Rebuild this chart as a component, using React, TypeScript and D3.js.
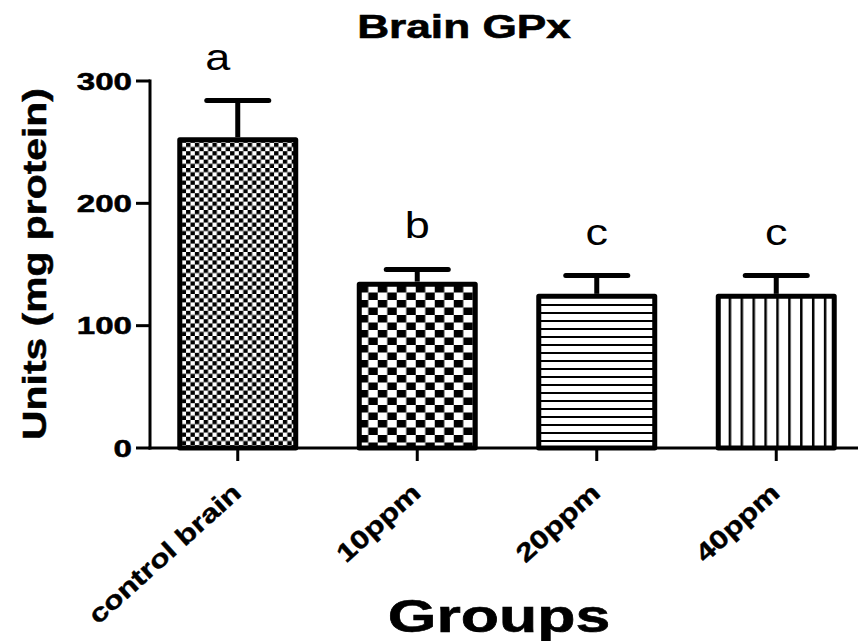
import React from "react";
import * as d3 from "d3";

const categories = ["control brain", "10ppm", "20ppm", "40ppm"];
const means = [254, 136, 126, 126];
const errors = [30, 10, 15, 15];
const letters = ["a", "b", "c", "c"];
const yTicks = [0, 100, 200, 300];
const title = "Brain GPx";
const yLabel = "Units (mg protein)";
const xLabel = "Groups";

const W = 858;
const H = 641;
const FONT = "'Liberation Sans', Arial, Helvetica, sans-serif";

export default function App() {
  const y = d3.scaleLinear().domain([0, 300]).range([448, 81]);
  const x = d3
    .scaleBand<string>()
    .domain(categories)
    .range([148, 866])
    .paddingInner(0.326)
    .paddingOuter(0.163);
  const bw = x.bandwidth();
  const fills = ["url(#p1)", "url(#p2)", "url(#p3)", "url(#p4)"];
  const letterDx = [-20, 0, 0, 0];
  const sw = 5;

  return (
    <svg
      width={W}
      height={H}
      style={{ position: "absolute", left: 0, top: 0, background: "#fff" }}
      fontFamily={FONT}
    >
      <defs>
        {categories.map((c, i) => {
          const bx = x(c)!;
          if (i === 0)
            return (
              <pattern key={i} id="p1" patternUnits="userSpaceOnUse" x={bx} y={0} width={8.8} height={8.4}>
                <rect width={8.8} height={8.4} fill="#fff" />
                <rect x={0} y={0} width={4.4} height={4.2} fill="#000" />
                <rect x={4.4} y={4.2} width={4.4} height={4.2} fill="#000" />
              </pattern>
            );
          if (i === 1)
            return (
              <pattern key={i} id="p2" patternUnits="userSpaceOnUse" x={bx + 2} y={0} width={19} height={15}>
                <rect width={19} height={15} fill="#fff" />
                <rect x={0} y={0} width={9.5} height={7.5} fill="#000" />
                <rect x={9.5} y={7.5} width={9.5} height={7.5} fill="#000" />
              </pattern>
            );
          if (i === 2)
            return (
              <pattern key={i} id="p3" patternUnits="userSpaceOnUse" x={0} y={0} width={10} height={8}>
                <rect width={10} height={8} fill="#fff" />
                <rect x={0} y={0} width={10} height={2} fill="#000" />
              </pattern>
            );
          return (
            <pattern key={i} id="p4" patternUnits="userSpaceOnUse" x={bx + 1} y={0} width={11.9} height={10}>
              <rect width={11.9} height={10} fill="#fff" />
              <rect x={0} y={0} width={2.5} height={10} fill="#000" />
            </pattern>
          );
        })}
      </defs>

      {/* Title */}
      <text
        transform={`translate(464,38) scale(1.3,1)`}
        textAnchor="middle"
        fontSize={34}
        fontWeight="bold"
        stroke="#000"
        strokeWidth={0.6}
      >
        {title}
      </text>

      {/* Bars */}
      {categories.map((c, i) => {
        const bx = x(c)!;
        const top = y(means[i]);
        return (
          <rect
            key={c}
            x={bx + sw / 2}
            y={top + sw / 2}
            width={bw - sw}
            height={y(0) - top - sw / 2}
            fill={fills[i]}
            stroke="#000"
            strokeWidth={sw}
            strokeLinejoin="round"
          />
        );
      })}

      {/* Error bars */}
      {categories.map((c, i) => {
        const cx = x(c)! + bw / 2;
        const top = y(means[i]);
        const cap = y(means[i] + errors[i]);
        return (
          <g key={c} stroke="#000" strokeWidth={5} strokeLinecap="round">
            <line x1={cx} x2={cx} y1={top} y2={cap} strokeLinecap="butt" />
            <line x1={cx - 31} x2={cx + 31} y1={cap} y2={cap} />
          </g>
        );
      })}

      {/* Significance letters */}
      {categories.map((c, i) => {
        const cx = x(c)! + bw / 2 + letterDx[i];
        const cap = y(means[i] + errors[i]);
        return (
          <text
            key={c}
            transform={`translate(${cx},${cap - 31}) scale(1.25,1)`}
            textAnchor="middle"
            fontSize={36}
          >
            {letters[i]}
          </text>
        );
      })}

      {/* Y axis */}
      <line x1={150} x2={150} y1={y(300) - 1.5} y2={y(0) + 1.5} stroke="#000" strokeWidth={3} />
      {yTicks.map((t) => (
        <g key={t}>
          <line x1={136} x2={150} y1={y(t)} y2={y(t)} stroke="#000" strokeWidth={3} />
          <text
            transform={`translate(132,${y(t) + 8.5}) scale(1.38,1)`}
            textAnchor="end"
            fontSize={24}
            fontWeight="bold"
            stroke="#000"
            strokeWidth={0.5}
          >
            {t}
          </text>
        </g>
      ))}

      {/* X axis */}
      <line x1={148.5} x2={858} y1={y(0)} y2={y(0)} stroke="#000" strokeWidth={3} />
      {categories.map((c) => {
        const cx = x(c)! + bw / 2;
        return (
          <g key={c}>
            <line x1={cx} x2={cx} y1={y(0)} y2={y(0) + 13} stroke="#000" strokeWidth={3} />
            <text
              transform={`translate(${cx + 5},${495}) rotate(-42) scale(1.25,1)`}
              textAnchor="end"
              fontSize={25.5}
              fontWeight="bold"
              stroke="#000"
              strokeWidth={0.4}
            >
              {c}
            </text>
          </g>
        );
      })}

      {/* Axis labels */}
      <text
        transform={`translate(46,264) rotate(-90) scale(1.22,1)`}
        textAnchor="middle"
        fontSize={33.5}
        fontWeight="bold"
        stroke="#000"
        strokeWidth={0.5}
      >
        {yLabel}
      </text>
      <text
        transform={`translate(499,632) scale(1.36,1)`}
        textAnchor="middle"
        fontSize={46}
        fontWeight="bold"
        stroke="#000"
        strokeWidth={0.6}
      >
        {xLabel}
      </text>
    </svg>
  );
}
